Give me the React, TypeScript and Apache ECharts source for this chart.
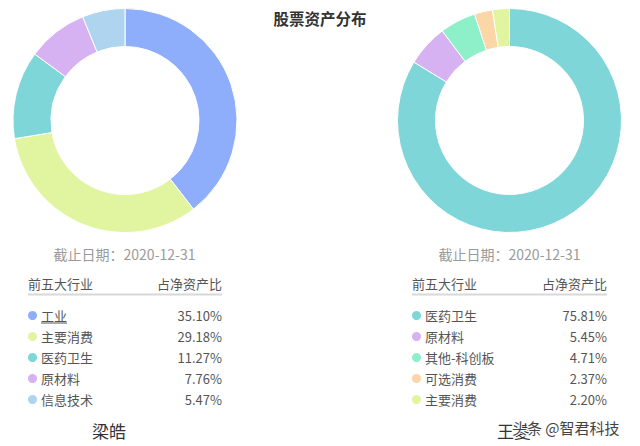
import React, { useEffect, useRef } from "react";
import * as echarts from "echarts";

const titleText = "股票资产分布";
const dateText = "截止日期：2020-12-31";
const headerLeft = "前五大行业";
const headerRight = "占净资产比";

const leftCategories = ["工业", "主要消费", "医药卫生", "原材料", "信息技术"];
const leftValues = [35.1, 29.18, 11.27, 7.76, 5.47];
const leftColors = ["#8eaefc", "#e1f5a0", "#7ed6d9", "#d6b2f3", "#aed4ef"];
const leftManager = "梁皓";

const rightCategories = ["医药卫生", "原材料", "其他-科创板", "可选消费", "主要消费"];
const rightValues = [75.81, 5.45, 4.71, 2.37, 2.2];
const rightColors = ["#7ed6d9", "#d6b2f3", "#8ef0c9", "#fbd7a8", "#e1f5a0"];
const rightManager = "王菱";
const watermark = "头条 @智君科技";

const FONT = '"Noto Sans CJK SC", "Noto Sans", sans-serif';

function panel(cx: number, left: number, right: number, cats: string[], vals: number[], colors: string[], underlineFirst: boolean) {
  const els: any[] = [];
  els.push({
    type: "text", x: cx, y: 254,
    style: { text: dateText, font: `14px ${FONT}`, fill: "#9a9a9a", align: "center", verticalAlign: "middle" },
  });
  els.push({
    type: "text", x: left, y: 283,
    style: { text: headerLeft, font: `13px ${FONT}`, fill: "#555", align: "left", verticalAlign: "middle" },
  });
  els.push({
    type: "text", x: right, y: 283,
    style: { text: headerRight, font: `13px ${FONT}`, fill: "#555", align: "right", verticalAlign: "middle" },
  });
  els.push({
    type: "line", shape: { x1: left, y1: 294.5, x2: right, y2: 294.5 },
    style: { stroke: "#d8d8d8", lineWidth: 2 },
  });
  cats.forEach((c, i) => {
    const y = 315.5 + i * 21;
    els.push({ type: "circle", shape: { cx: left + 4.5, cy: y, r: 4.5 }, style: { fill: colors[i] } });
    els.push({
      type: "text", x: left + 13, y,
      style: { text: c, font: `13px ${FONT}`, fill: "#555", align: "left", verticalAlign: "middle" },
    });
    els.push({
      type: "text", x: right, y,
      style: { text: vals[i].toFixed(2) + "%", font: `13px ${FONT}`, fill: "#555", align: "right", verticalAlign: "middle" },
    });
    if (underlineFirst && i === 0) {
      els.push({
        type: "line", shape: { x1: left + 13, y1: y + 7.5, x2: left + 13 + c.length * 13, y2: y + 7.5 },
        style: { stroke: "#555", lineWidth: 1 },
      });
    }
  });
  return els;
}

export default function App() {
  const ref = useRef<HTMLDivElement>(null);
  useEffect(() => {
    document.body.style.margin = "0";
    if (!ref.current) return;
    const chart = echarts.init(ref.current, undefined, { renderer: "svg" });
    const mkPie = (center: number[], cats: string[], vals: number[], colors: string[]) => ({
      type: "pie",
      center,
      radius: [74, 112],
      startAngle: 90,
      clockwise: true,
      label: { show: false },
      labelLine: { show: false },
      emphasis: { disabled: true },
      itemStyle: { borderColor: "#fff", borderWidth: 1 },
      data: cats.map((c, i) => ({ name: c, value: vals[i], itemStyle: { color: colors[i] } })),
    });
    chart.setOption({
      animation: false,
      backgroundColor: "#fff",
      title: {
        text: titleText,
        left: "center",
        top: 5,
        textStyle: { fontFamily: FONT, fontSize: 15.5, fontWeight: "bold", color: "#333" },
      },
      series: [
        mkPie([125, 120.5], leftCategories, leftValues, leftColors),
        mkPie([509.5, 120.5], rightCategories, rightValues, rightColors),
      ],
      graphic: [
        ...panel(124.5, 28, 222, leftCategories, leftValues, leftColors, true),
        ...panel(509.5, 412, 607, rightCategories, rightValues, rightColors, false),
        {
          type: "text", x: 109, y: 430,
          style: { text: leftManager, font: `17px ${FONT}`, fill: "#333", align: "center", verticalAlign: "middle" },
        },
        {
          type: "text", x: 497, y: 430,
          style: { text: rightManager, font: `17px ${FONT}`, fill: "#333", align: "left", verticalAlign: "middle" },
        },
        {
          type: "text", x: 512, y: 427,
          style: {
            text: watermark, font: `15px ${FONT}`, fill: "#444", align: "left", verticalAlign: "middle",
            stroke: "#fff", lineWidth: 2,
          },
        },
      ],
    });
    return () => chart.dispose();
  }, []);
  return <div ref={ref} style={{ width: 640, height: 446 }} />;
}
